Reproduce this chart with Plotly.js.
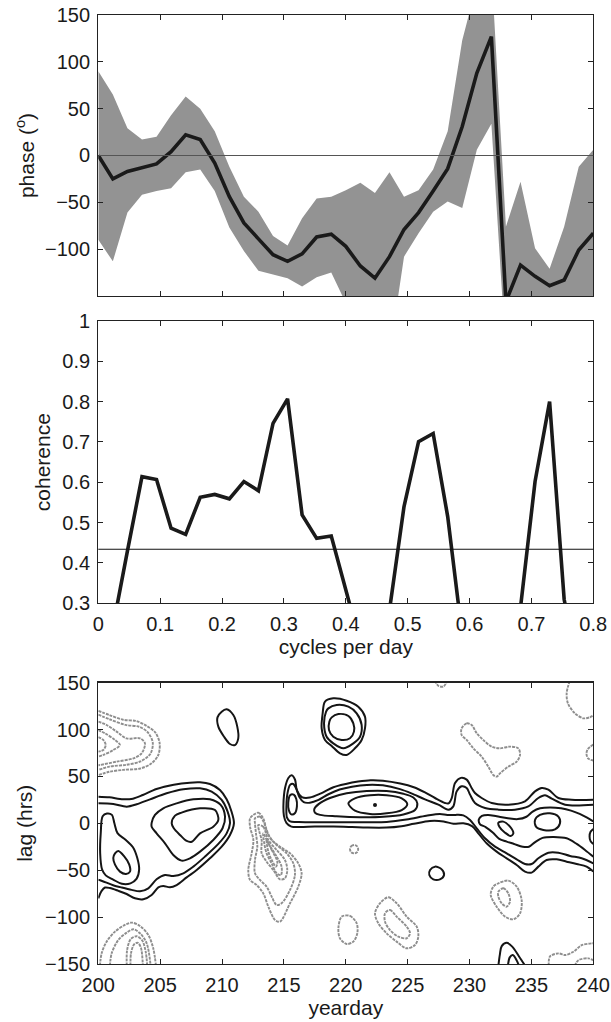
<!DOCTYPE html>
<html><head><meta charset="utf-8">
<script src="https://cdn.plot.ly/plotly-3.0.1.min.js"></script>
<style>html,body{margin:0;padding:0;background:#fff;}#chart{width:611px;height:1022px;}</style>
</head><body><div id="chart"></div>
<script>
// ---------- top & middle panels: spectra ----------
const freq = [0, 0.0235, 0.0471, 0.0706, 0.0941, 0.1176, 0.1412, 0.1647, 0.1882, 0.2118, 0.2353, 0.2588, 0.2824, 0.3059, 0.3294, 0.3529, 0.3765, 0.4, 0.4235, 0.4471, 0.4706, 0.4941, 0.5176, 0.5412, 0.5647, 0.5882, 0.6118, 0.6353, 0.6588, 0.6824, 0.7059, 0.7294, 0.7529, 0.7765, 0.8];
const phase = [0, -25, -17, -13, -9, 4, 22, 17, -8, -44, -72, -89, -106, -113, -105, -87, -84, -97, -118, -131, -108, -79, -61, -38, -14, 31, 88, 127, -156, -117, -129, -139, -133, -101, -83];
const phaseHi = [90, 65, 29, 17, 20, 43, 63, 50, 26, -12, -44, -60, -86, -96, -67, -46, -44, -37, -29, -40, -18, -44, -37, -15, 26, 123, 183, 200, -76, -28, -99, -121, -76, -12, 6];
const phaseLo = [-90, -113, -61, -42, -38, -35, -18, -15, -38, -77, -102, -123, -127, -131, -140, -130, -125, -156, -190, -200, -213, -108, -83, -60, -49, -56, 6, 34, -213, -200, -200, -200, -200, -200, -200];
const coherence = [0.10, 0.24, 0.43, 0.614, 0.607, 0.486, 0.471, 0.563, 0.570, 0.559, 0.602, 0.579, 0.746, 0.807, 0.519, 0.461, 0.467, 0.335, 0.20, 0.15, 0.283, 0.540, 0.701, 0.721, 0.515, 0.22, 0.18, 0.12, 0.15, 0.29, 0.602, 0.800, 0.31, 0.12, 0.12];
const cohLevel = 0.434;
const phaseTicks = [-100, -50, 0, 50, 100, 150];
const freqTicks = [0, 0.1, 0.2, 0.3, 0.4, 0.5, 0.6, 0.7, 0.8];
const cohTicks = [0.3, 0.4, 0.5, 0.6, 0.7, 0.8, 0.9, 1];
const dayTicks = [200, 205, 210, 215, 220, 225, 230, 235, 240];
const lagTicks = [-150, -100, -50, 0, 50, 100, 150];

// ---------- bottom panel: traced contour lines [yearday, lag] ----------
// positive (black, solid)
const A1 = [[200,28.4],[200.9,27.7],[202,25.6],[202.8,26.3],[203.6,30.2],[204.7,36.6],[206.1,41.2],[207.4,43.4],[208.22,43.7],[209.02,41.9],[209.83,35.5],[210.37,25.6],[210.77,12.4],[210.96,0],[210.64,-12.4],[209.97,-24.9],[209.02,-37.3],[207.95,-49.8],[207.14,-57.6],[206.33,-65.8],[205.79,-68.3],[205.25,-66.8],[204.85,-68.3],[204.31,-76.4],[203.64,-81],[202.96,-80],[202.29,-75.4],[201.62,-72],[200.94,-69],[200.54,-68.5],[200.27,-72],[200,-80]];
const A2 = [[200,21.3],[201.21,20.6],[202.29,17.8],[203.1,20.3],[204.18,25.6],[205.52,32],[206.87,36.3],[208.22,37.3],[209.16,33.8],[209.97,24.9],[210.45,12.4],[210.64,0],[210.37,-10.7],[209.7,-22],[208.62,-35.5],[207.68,-46.2],[206.87,-53.3],[206.06,-56.2],[205.39,-55.1],[204.71,-59.7],[204.04,-69.3],[203.37,-72.5],[202.69,-71],[201.9,-68.5],[201.2,-66],[200.6,-63],[200.2,-61],[200,-60]];
const A3 = [[200.35,7.5],[200.7,10.5],[201.1,9],[201.3,0],[201.55,-10.5],[202.2,-17.5],[202.8,-25.5],[203.15,-37],[203.3,-49],[203.1,-59],[202.6,-64],[201.9,-64.5],[201.2,-60],[200.6,-55.5],[200.3,-49],[200.15,-32],[200.2,-10],[200.35,7.5]];
const A3in = [[201.35,-32],[201.62,-29.5],[202.08,-35],[202.5,-44],[202.56,-51.5],[202.24,-54],[201.75,-51.5],[201.35,-44],[201.21,-37],[201.35,-32]];
const A4 = [[204.31,0.5],[204.58,8.9],[205.25,16],[206.33,21.3],[207.68,25.6],[209.02,25.6],[209.89,19.6],[210.24,7.1],[210.04,-5.3],[209.29,-17.8],[208.22,-30.2],[207.41,-37.3],[206.73,-39.8],[206.06,-33.8],[205.39,-21.3],[204.71,-10.7],[204.31,-3.6],[204.31,0.5]];
const A5 = [[205.93,0],[206.2,8.2],[206.73,11.4],[208.22,16],[209.43,14.2],[209.7,3.6],[209.29,-3.6],[208.22,-10.7],[207.55,-19.6],[207.14,-18.8],[206.6,-12.4],[206.1,-5.3],[205.93,0]];
const B1 = [[209.97,119.1],[210.37,121.6],[210.91,115.5],[211.23,103.1],[211.31,90.6],[211.04,83.5],[210.64,84.6],[210.16,92.4],[209.7,103.1],[209.63,113],[209.97,119.1]];
const C1 = [[218.32,129.8],[218.99,133.3],[220.07,130.8],[221.01,124.4],[221.55,113.8],[221.55,101.3],[221.28,88.9],[220.74,80],[220.07,72.9],[219.53,74.7],[218.86,82.5],[218.32,88.9],[218.05,101.3],[218.13,117.3],[218.32,129.8]];
const C2 = [[218.59,122.6],[219.26,126.2],[220.21,124.4],[220.88,117.3],[221.28,104.9],[221.15,92.4],[220.61,85.3],[219.8,80],[218.99,85.3],[218.45,92.4],[218.24,106.6],[218.4,119],[218.59,122.6]];
const C3 = [[218.86,113],[219.4,116.6],[220.21,114.5],[220.61,106.6],[220.66,97.8],[220.34,90.7],[219.67,88.9],[218.99,92.4],[218.64,99.5],[218.67,108.4],[218.86,113]];
const O1 = [[240,25.2],[238.25,25.2],[237.18,27],[236.37,35.9],[235.83,37.7],[235.29,34.1],[234.48,23.5],[233.13,19.9],[231.79,21.7],[230.98,27],[230.44,32.3],[230.17,37.7],[229.77,46.6],[229.3,48.5],[228.83,43],[228.56,27],[228.3,21.3],[228.02,21.7],[227.21,27],[226.4,33],[225.5,38.5],[224.4,42.5],[223,45.5],[222,46],[221,44.5],[220,42],[219,38.5],[218,32],[217.1,27.5],[216.45,28],[216.05,35],[215.9,46.5],[215.63,51.2],[215.36,48.3],[215.09,37.6],[214.96,20],[215,8],[215.2,0.5],[215.6,-3.5],[216.3,-4],[217.5,-3.5],[219,-3.5],[220.5,-4],[221.7,-4.5],[223.3,-4.5],[224.5,-3],[225.5,-0.5],[226.8,2.5],[227.9,2],[228.7,-0.5],[229.5,0],[230.2,-3],[230.71,-10.7],[231.38,-21.3],[232.19,-30.2],[233,-37.3],[233.81,-44.4],[234.48,-51.5],[235.02,-52.6],[235.56,-46.2],[236.23,-39.1],[237.04,-38.4],[237.85,-40.9],[238.66,-43.4],[239.46,-46.2],[240,-51.5]];
const O2 = [[240,19.9],[237.72,19.9],[236.64,26.3],[236.1,29.9],[235.56,27],[234.75,18.1],[233.67,14.6],[232.33,14.6],[231.25,16.4],[230.44,21.7],[230.04,30.6],[229.77,37.7],[229.36,39.5],[228.96,34.1],[228.69,18.1],[228.29,14.6],[227.48,19.9],[226.4,25.5],[225.3,32],[224.38,36.5],[223,40.5],[221.7,41],[220.5,39],[219.5,36],[218.6,31],[217.8,25],[217.1,22],[216.6,22.5],[216.25,28],[216,37],[215.75,42],[215.5,41],[215.3,33],[215.2,18],[215.25,6],[215.5,2],[216.2,1.5],[217.5,1.2],[219.5,1.2],[221.7,1.2],[223.3,1.5],[224.9,4],[226.5,8],[227.6,10],[228.2,9],[228.8,9],[229.5,8.5],[230.04,3.6],[230.58,-5.3],[231.25,-16],[232.06,-24.9],[233,-32],[233.81,-38.4],[234.48,-43.4],[235.02,-43.4],[235.56,-37.3],[236.37,-31.3],[237.18,-31.3],[238.12,-34.8],[239.06,-37.3],[240,-42.7]];
const D3 = [[217.45,15],[217.8,20.5],[218.72,27],[220.07,32],[221.69,34.5],[223.3,34.5],[224.65,31.5],[225.46,27.5],[225.78,21.3],[225.59,14.2],[224.65,9.5],[223.03,7],[221.15,6.5],[219.26,7.5],[217.92,9],[217.5,11.5],[217.45,15]];
const D4 = [[220.21,21.3],[220.74,26.7],[221.96,30],[223.3,30],[224.52,26.7],[224.97,20.3],[224.52,14.2],[223.3,10.7],[221.96,10],[220.74,13.5],[220.21,21.3]];
const DL = [[215.5,30],[215.8,30.5],[216,26],[216.05,18],[215.9,11],[215.6,9.5],[215.4,14],[215.35,22],[215.5,30]];
const peakDay = [222.36];
const peakLag = [19.6];
const E3 = [[240,2],[239.5,6],[238.9,10],[238.2,13.5],[237.4,16],[236.5,17],[235.7,16],[235.1,12.5],[234.6,7],[233.9,4.5],[233.1,5.5],[232.2,7.5],[231.5,9],[231,8],[230.75,4],[230.85,-1],[231.3,-4],[231.9,-10],[232.4,-16.5],[233,-19.5],[233.6,-22],[234.3,-25],[234.8,-25],[235.3,-20],[235.9,-15.5],[236.8,-14.5],[237.85,-16],[238.66,-22],[239.33,-28.4],[240,-35.5]];
const E4 = [[235.29,3.6],[235.69,8.9],[236.5,10.7],[237.18,7.1],[237.31,0],[236.91,-6.4],[235.96,-7.1],[235.37,-3.6],[235.29,3.6]];
const S1 = [[232.33,0.7],[232.73,1.8],[233.27,-3.6],[233.54,-10.7],[233.32,-13.5],[232.87,-10],[232.41,-3.6],[232.33,0.7]];
const R1 = [[240,-6],[239.78,-9],[239.7,-14],[239.78,-19],[240,-22]];
const K1 = [[226.81,-49.8],[227.21,-46.2],[227.75,-49.1],[227.94,-55.1],[227.61,-59.7],[227.07,-59.7],[226.75,-55.1],[226.81,-49.8]];
const BL1 = [[232.33,-152],[232.45,-140],[232.6,-131],[233,-127.5],[233.45,-131.5],[234,-142],[234.5,-152]];
const BL2 = [[233.1,-152],[233.25,-143],[233.5,-140.5],[233.8,-146],[234,-152]];
// negative (grey, dotted)
const G1a = [[200,120],[200.9,115.5],[202,110.5],[203.1,109],[203.9,104],[204.6,97],[204.95,86],[204.85,73],[204.3,64],[203.4,58.5],[202,57],[200.9,55],[200,51.5]];
const G1b = [[200,116],[200.9,111],[202.2,105],[203.3,103],[204,97],[204.4,86],[204.2,74],[203.4,66],[202.3,62.5],[200.9,60.5],[200,57]];
const G1c = [[200,108.4],[200.67,104.9],[201.48,97.8],[202.29,90.6],[203.37,90.6],[203.77,85.3],[203.5,74.7],[202.83,69.3],[201.48,65.8],[200.13,62.2],[200,62]];
const G1d = [[200,99.5],[200.54,96],[201.35,88.9],[201.75,83.5],[201.21,78.2],[200.4,72.9],[200,71.1]];
const G1e = [[200,92],[200.4,88.9],[200.6,83.5],[200.4,78.2],[200,76.5]];
const G2a = [[200.13,-152],[200.27,-138.6],[200.67,-126.2],[201.35,-115.5],[202.15,-108.4],[202.69,-105.9],[203.37,-109.5],[204.04,-119.1],[204.44,-133.3],[204.66,-152]];
const G2b = [[200.94,-152],[201.08,-138.6],[201.62,-124.4],[202.29,-116.6],[202.83,-113],[203.37,-117.3],[203.91,-128],[204.23,-152]];
const G2c = [[202.3,-152],[202.33,-135],[202.62,-123.5],[203.1,-120.5],[203.55,-125],[203.83,-136.9],[203.95,-152]];
const G2d = [[202.6,-152],[202.65,-138],[202.9,-129],[203.2,-127.5],[203.45,-133],[203.6,-152]];
const G3a = [[212.53,8.9],[212.93,11.4],[213.33,5.3],[213.6,-7.1],[214.01,-17.8],[214.68,-24.9],[215.49,-32],[216.16,-42.7],[216.43,-53.3],[216.16,-67.5],[215.49,-85.3],[214.68,-104.9],[214.28,-103.1],[213.74,-88.9],[213.33,-74.7],[212.79,-65.8],[212.26,-60.4],[212.12,-49.8],[212.39,-32],[212.53,-17.8],[212.26,-3.6],[212.26,5.3],[212.53,8.9]];
const G3b = [[212.66,5.3],[213.06,7.1],[213.39,0.7],[213.74,-12.4],[214.41,-23.1],[215.22,-32],[215.76,-42.7],[215.89,-55.1],[215.49,-71.1],[214.81,-85.3],[214.41,-87.1],[214.01,-78.2],[213.6,-67.5],[213.06,-60.4],[212.66,-53.3],[212.66,-39.1],[212.85,-24.9],[212.74,-10.7],[212.66,0],[212.66,5.3]];
const G3c = [[212.93,-1.8],[213.33,-3.6],[213.74,-17.8],[214.41,-28.4],[215.08,-39.1],[215.27,-49.8],[215.08,-58.7],[214.68,-59.7],[214.14,-49.8],[213.6,-40.9],[213.2,-32],[213.2,-17.8],[213.01,-8.9],[212.93,-1.8]];
const G3d = [[213.33,-10.7],[213.74,-21.3],[214.41,-35.5],[214.81,-46.2],[214.76,-55.1],[214.41,-53.3],[214.01,-42.7],[213.6,-32],[213.41,-21.3],[213.33,-10.7]];
const G3e = [[213.6,-17.8],[214.01,-28.4],[214.47,-40.9],[214.36,-46.2],[214.01,-39.1],[213.74,-30.2],[213.6,-17.8]];
const G4 = [[220.34,-27.6],[220.44,-24.3],[220.67,-23.1],[220.9,-24.3],[221,-27.6],[220.9,-30.9],[220.67,-32.1],[220.44,-30.9],[220.34,-27.6]];
const G5 = [[219.67,-99.5],[220.34,-98.8],[220.88,-106.6],[220.93,-117.3],[220.61,-126.2],[220.07,-128.7],[219.53,-122.7],[219.4,-112],[219.67,-99.5]];
const G6a = [[222.76,-85.3],[223.44,-78.9],[224.11,-85.3],[224.92,-99.5],[225.73,-110.2],[225.86,-120.9],[225.59,-129.8],[224.92,-133.3],[224.11,-126.2],[223.3,-117.3],[222.63,-106.6],[222.36,-96],[222.76,-85.3]];
const G6b = [[223.17,-96],[223.57,-92.4],[224.11,-99.5],[224.92,-110.2],[225.19,-117.3],[224.92,-122.6],[224.25,-120.9],[223.57,-113.8],[223.17,-104.9],[223.17,-96]];
const G7 = [[229.36,101.3],[229.77,106.6],[230.17,104.9],[230.58,96],[231.11,88.9],[231.79,81.8],[232.46,80],[233.27,81.8],[233.94,80],[234.08,72.9],[233.81,65.8],[233.13,60.4],[232.46,53.3],[232.19,49.8],[231.92,51.5],[231.52,60.4],[230.98,71.1],[230.31,80],[229.77,88.9],[229.36,94.2],[229.36,101.3]];
const G8 = [[238.1,152],[237.85,139],[237.95,128],[238.5,117.5],[239.2,112],[239.7,113],[240,115]];
const G9 = [[240,84],[239.55,79],[239.45,74],[239.6,69],[240,67]];
const G10 = [[227.2,152],[227.5,146.5],[227.9,146],[228.2,152]];
const G11a = [[232.33,-64],[233.13,-61.1],[233.81,-67.5],[234.21,-81.8],[234.08,-96],[233.54,-102.4],[232.87,-99.5],[232.19,-88.9],[231.71,-76.4],[231.92,-67.5],[232.33,-64]];
const G11b = [[232.33,-72.9],[232.73,-69.3],[233.13,-74.7],[233.27,-83.5],[233,-88.9],[232.6,-85.3],[232.33,-78.2],[232.33,-72.9]];
const G12a = [[236.4,-152],[236.5,-142],[237.2,-138.7],[237.7,-140.5],[238.4,-137],[239.06,-130],[239.9,-128],[240,-128]];
const G12b = [[238.5,-152],[238.8,-146],[239.6,-144],[240,-146]];

const positiveContours = [A1, A2, A3, A3in, A4, A5, B1, C1, C2, C3, O1, O2, D3, D4, DL, E3, E4, S1, R1, K1, BL1, BL2];
const negativeContours = [G1a, G1b, G1c, G1d, G1e, G2a, G2b, G2c, G2d, G3a, G3b, G3c, G3d, G3e, G4, G5, G6a, G6b, G7, G8, G9, G10, G11a, G11b, G12a, G12b];

// ---------- traces ----------
const FONT = 'Liberation Sans, Arial, Helvetica, sans-serif';
const traces = [];
traces.push({x: freq, y: phaseLo, xaxis: 'x', yaxis: 'y', mode: 'lines', line: {width: 0, color: '#939393'}, hoverinfo: 'skip', showlegend: false});
traces.push({x: freq, y: phaseHi, xaxis: 'x', yaxis: 'y', mode: 'lines', fill: 'tonexty', fillcolor: '#939393', line: {width: 0, color: '#939393'}, hoverinfo: 'skip', showlegend: false});
traces.push({x: freq, y: phase, xaxis: 'x', yaxis: 'y', mode: 'lines', line: {width: 3.6, color: '#1a1a1a'}, showlegend: false});
traces.push({x: freq, y: coherence, xaxis: 'x2', yaxis: 'y2', mode: 'lines', line: {width: 3.6, color: '#1a1a1a'}, showlegend: false});

function contourTrace(pts, color, width, dash) {
  return {x: pts.map(p => p[0]), y: pts.map(p => p[1]), xaxis: 'x3', yaxis: 'y3', mode: 'lines',
    line: {color: color, width: width, dash: dash, shape: 'spline', smoothing: 0.9}, hoverinfo: 'skip', showlegend: false};
}
negativeContours.forEach(c => traces.push(contourTrace(c, '#8e8e8e', 1.9, '3px,1px')));
positiveContours.forEach(c => traces.push(contourTrace(c, '#151515', 2.0, 'solid')));
traces.push({x: peakDay, y: peakLag, xaxis: 'x3', yaxis: 'y3', mode: 'markers', marker: {size: 4, color: '#151515'}, hoverinfo: 'skip', showlegend: false});

const axBase = {showline: true, mirror: 'ticks', linecolor: '#222', linewidth: 1.2, ticks: 'inside', ticklen: 5,
  tickcolor: '#222', tickwidth: 1, showgrid: false, zeroline: false, tickfont: {family: FONT, size: 20, color: '#1a1a1a'}, ticklabelstandoff: 3};
const titleFont = {family: FONT, size: 21, color: '#1a1a1a'};

const layout = {
  width: 611, height: 1022, margin: {l: 0, r: 0, t: 0, b: 0},
  paper_bgcolor: '#fff', plot_bgcolor: '#fff', showlegend: false,
  font: {family: FONT, color: '#1a1a1a'},
  xaxis: Object.assign({}, axBase, {domain: [0.1609, 0.971], anchor: 'y', range: [0, 0.8], tickvals: freqTicks, showticklabels: false}),
  yaxis: Object.assign({}, axBase, {domain: [0.7104, 0.9853], anchor: 'x', range: [-150, 150], tickvals: phaseTicks,
    title: {text: 'phase (<sup>o</sup>)', font: titleFont, standoff: 4}}),
  xaxis2: Object.assign({}, axBase, {domain: [0.1609, 0.971], anchor: 'y2', range: [0, 0.8], tickvals: freqTicks, ticktext: freqTicks.map(String),
    title: {text: 'cycles per day', font: titleFont, standoff: 4}}),
  yaxis2: Object.assign({}, axBase, {domain: [0.4097, 0.6859], anchor: 'x2', range: [0.3, 1], tickvals: cohTicks, ticktext: cohTicks.map(String),
    title: {text: 'coherence', font: titleFont, standoff: 6}}),
  xaxis3: Object.assign({}, axBase, {domain: [0.1609, 0.971], anchor: 'y3', range: [200, 240], tickvals: dayTicks,
    title: {text: 'yearday', font: titleFont, standoff: 4}}),
  yaxis3: Object.assign({}, axBase, {domain: [0.0568, 0.332], anchor: 'x3', range: [-150, 150], tickvals: lagTicks,
    title: {text: 'lag (hrs)', font: titleFont, standoff: 6}}),
  shapes: [
    {type: 'line', xref: 'x domain', yref: 'y', x0: 0, x1: 1, y0: 0, y1: 0, line: {color: '#555', width: 1.2}},
    {type: 'line', xref: 'x2 domain', yref: 'y2', x0: 0, x1: 1, y0: cohLevel, y1: cohLevel, line: {color: '#111', width: 1.2}}
  ]
};

Plotly.newPlot('chart', traces, layout, {staticPlot: true, displayModeBar: false});
</script>
</body></html>
